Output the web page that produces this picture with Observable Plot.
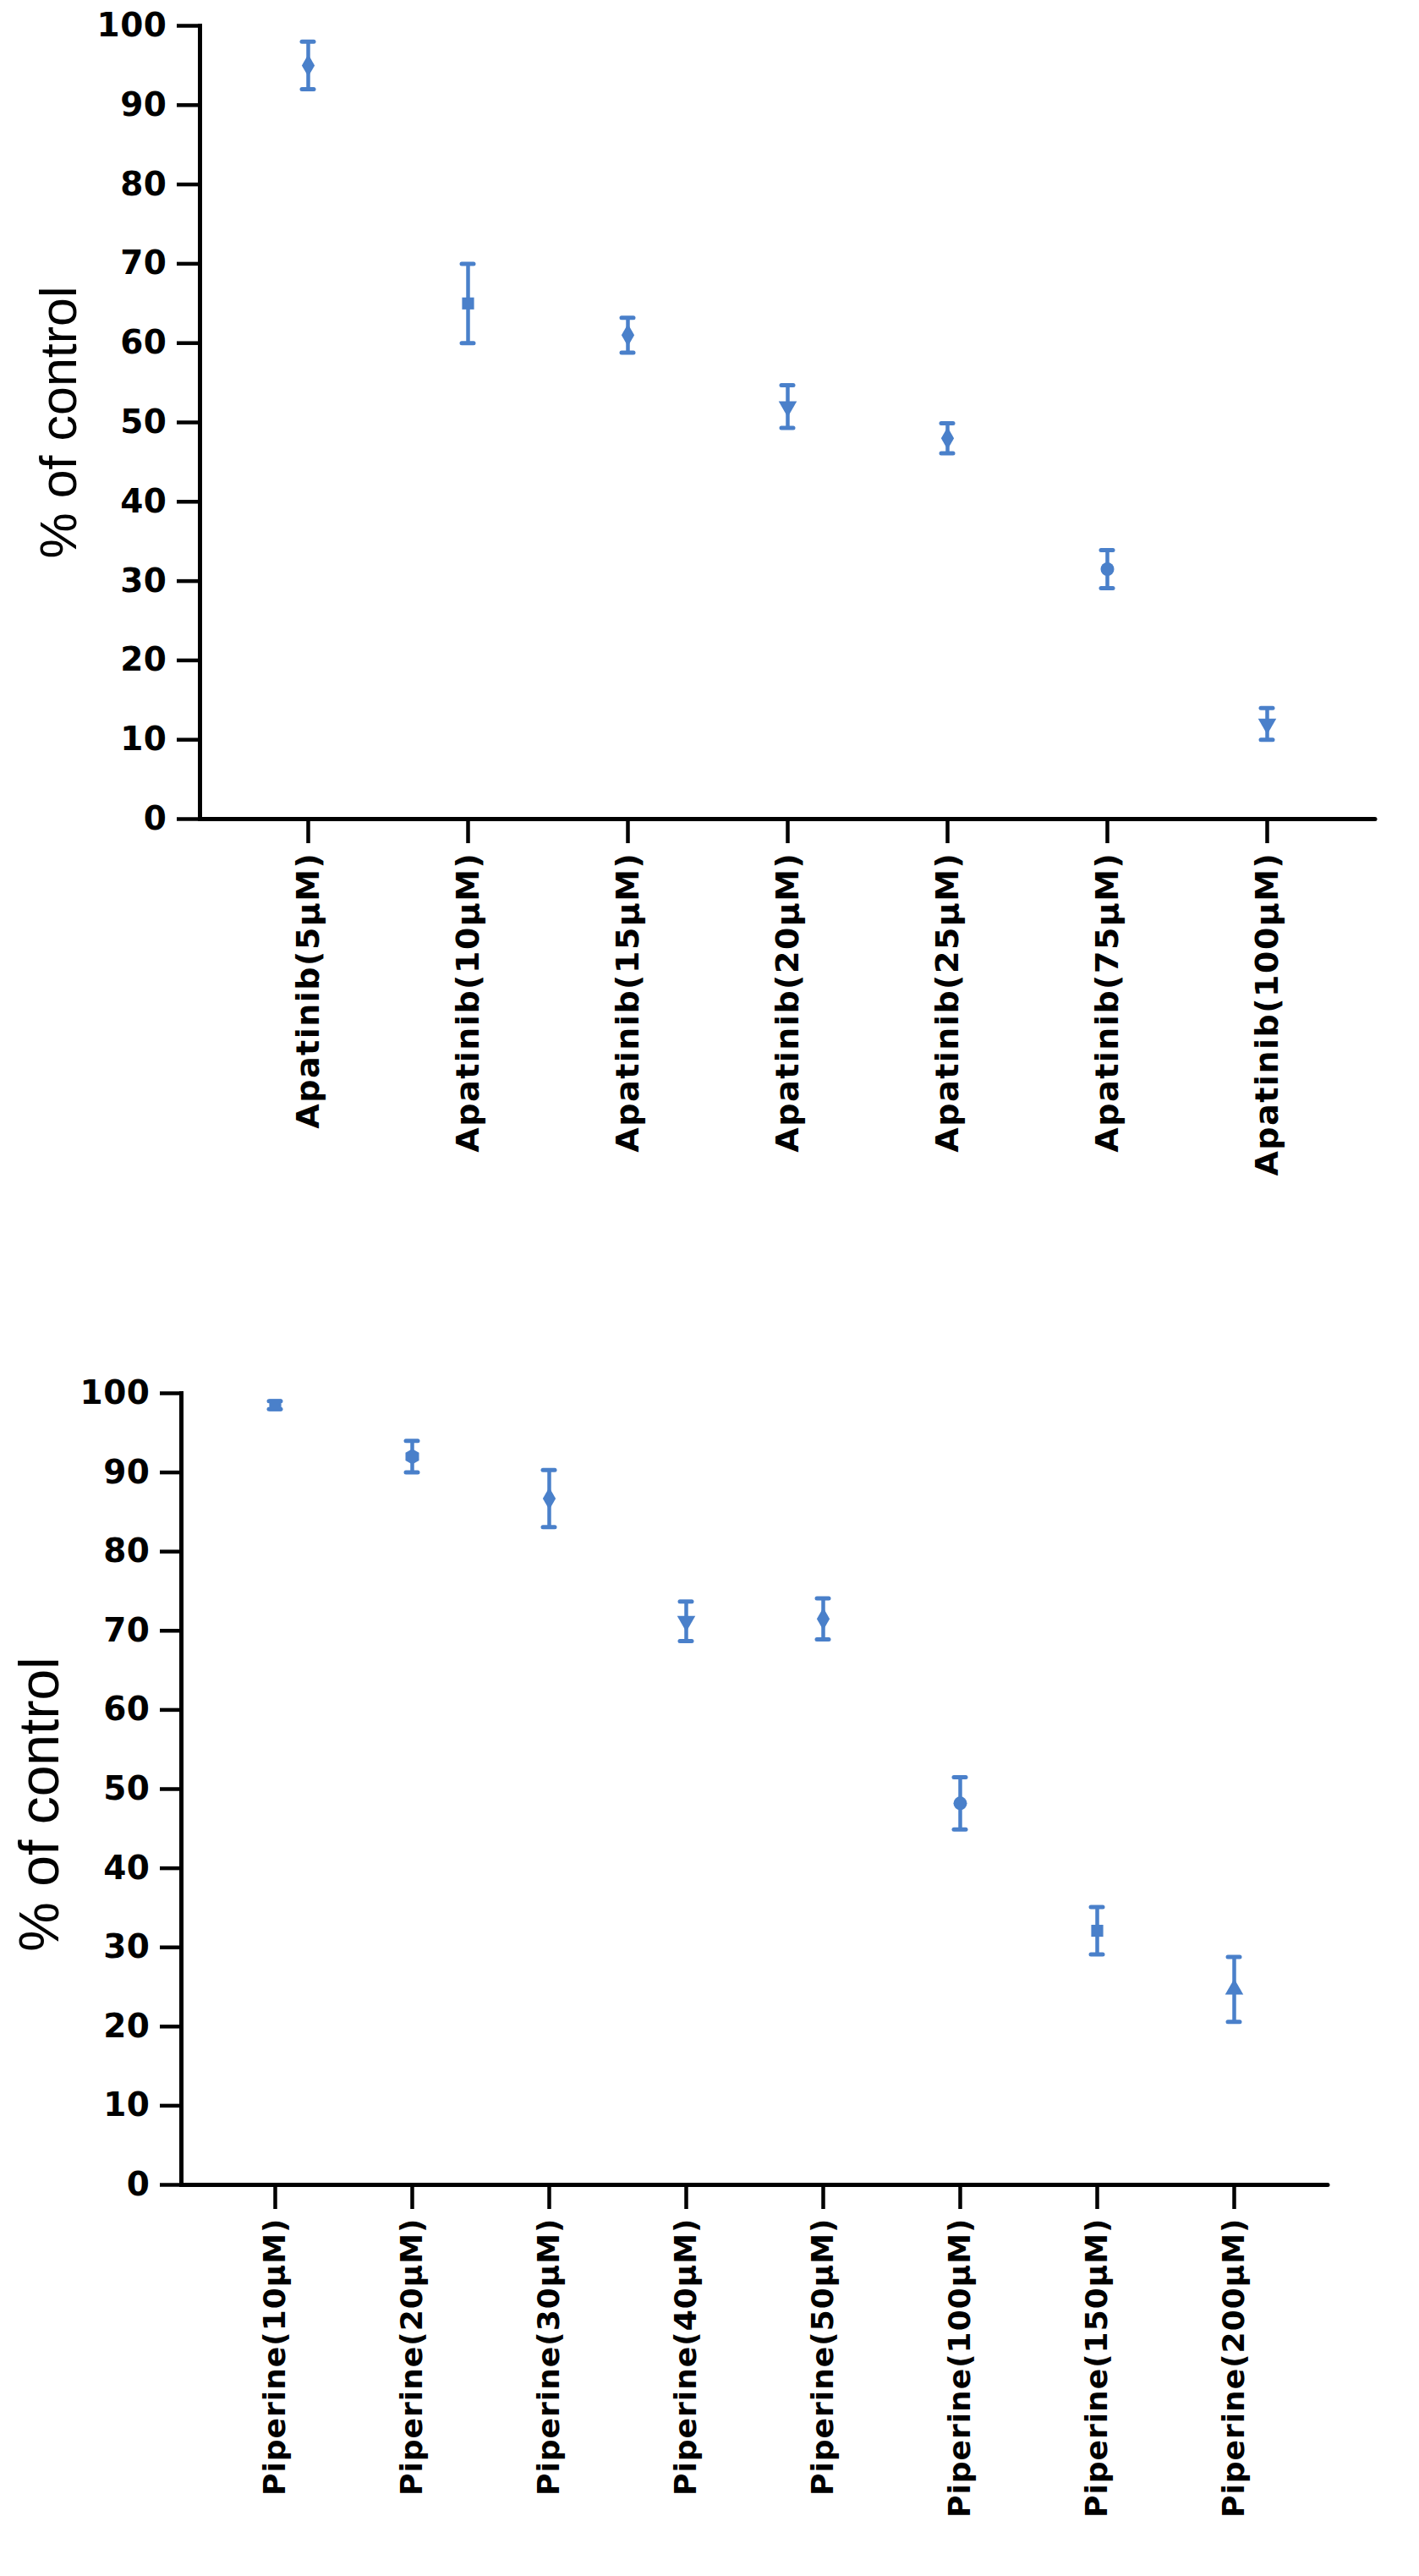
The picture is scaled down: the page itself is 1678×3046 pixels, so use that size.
<!DOCTYPE html>
<html>
<head>
<meta charset="utf-8">
<script src="https://cdn.jsdelivr.net/npm/d3@7"></script>
<script src="https://cdn.jsdelivr.net/npm/@observablehq/plot@0.6"></script>
<style>
  body { margin: 0; background: #fff; }
  #top, #bottom { display: block; line-height: 0; }
  #top [aria-label="x-axis tick label"] text { letter-spacing: 1.5px; }
  #bottom [aria-label="x-axis tick label"] text { letter-spacing: 1px; }
  [aria-label="y-axis tick label"] text { letter-spacing: 0.5px; }
</style>
</head>
<body>
<div id="top"></div>
<div id="bottom"></div>
<script>
// ---- data ----
const apatinibLabels = ["Apatinib(5μM)", "Apatinib(10μM)", "Apatinib(15μM)", "Apatinib(20μM)", "Apatinib(25μM)", "Apatinib(75μM)", "Apatinib(100μM)"];
const apatinibMeans  = [95, 65, 61, 52, 48, 31.5, 12];
const apatinibErrors = [3, 5, 2.2, 2.7, 1.9, 2.4, 2];

const piperineLabels = ["Piperine(10μM)", "Piperine(20μM)", "Piperine(30μM)", "Piperine(40μM)", "Piperine(50μM)", "Piperine(100μM)", "Piperine(150μM)", "Piperine(200μM)"];
const piperineMeans  = [98.5, 92, 86.7, 71.2, 71.5, 48.2, 32.1, 24.7];
const piperineErrors = [0.5, 2, 3.6, 2.5, 2.6, 3.3, 3, 4.1];

const yTicks = [0, 10, 20, 30, 40, 50, 60, 70, 80, 90, 100];
const yTitle = "% of control";

// ---- styles ----
const blue = "#4a80ca";
const apatinibSymbols = ["diamond", "square", "diamond", "triangle", "diamond", "circle", "triangle"];
const apatinibRotate  = [0, 0, 0, 180, 0, 0, 180];
const piperineSymbols = ["square", "hexagon", "diamond", "triangle", "diamond", "circle", "square", "triangle"];
const piperineRotate  = [0, 0, 0, 180, 0, 0, 0, 0];

function chart(o) {
  const data = o.labels.map((c, i) => ({c, m: o.means[i], e: o.errors[i], s: o.symbols[i], r: o.rotates[i]}));
  return Plot.plot({
    width: 1678,
    height: o.height,
    marginTop: o.marginTop,
    marginBottom: o.marginBottom,
    marginLeft: o.marginLeft,
    marginRight: o.marginRight,
    style: {fontFamily: "'Liberation Sans', Arial, sans-serif", color: "#000", background: "#fff", overflow: "visible"},
    x: {type: "point", domain: o.labels, padding: 0.67},
    y: {domain: [0, 100]},
    marks: [
      Plot.axisY({ticks: yTicks, tickSize: o.yTickSize, tickPadding: 12, fontSize: 39, fontWeight: "bold", fontFamily: "DejaVu Sans", strokeWidth: 4.5, label: null}),
      Plot.axisX({tickRotate: -90, tickSize: 29, tickPadding: 10, fontSize: o.labelFont, fontWeight: "bold", fontFamily: "DejaVu Sans", strokeWidth: 4.5, label: null}),
      Plot.ruleY([0], {strokeWidth: 5, strokeLinecap: "round"}),
      Plot.frame({anchor: "left", strokeWidth: 5}),
      Plot.ruleX(data, {x: "c", y1: d => d.m - d.e, y2: d => d.m + d.e, stroke: blue, strokeWidth: 4.5}),
      Plot.ruleY(data, {x1: "c", x2: "c", y: d => d.m + d.e, insetLeft: -7, insetRight: -7, stroke: blue, strokeWidth: 5, strokeLinecap: "round"}),
      Plot.ruleY(data, {x1: "c", x2: "c", y: d => d.m - d.e, insetLeft: -7, insetRight: -7, stroke: blue, strokeWidth: 5, strokeLinecap: "round"}),
      Plot.dot(data, {x: "c", y: "m", symbol: "s", rotate: "r", r: 8, fill: blue, stroke: "none"}),
      Plot.text([yTitle], {frameAnchor: "left", textAnchor: "middle", lineAnchor: "middle", rotate: -90, dx: o.titleDx, dy: o.titleDy, fontSize: o.titleSize, fill: "#000"})
    ]
  });
}

document.getElementById("top").append(chart({
  labels: apatinibLabels, means: apatinibMeans, errors: apatinibErrors,
  symbols: apatinibSymbols, rotates: apatinibRotate,
  height: 1440, marginTop: 30, marginBottom: 472, marginLeft: 236, marginRight: 52,
  yTickSize: 27, labelFont: 38, titleSize: 61, titleDx: -166, titleDy: 0
}));

document.getElementById("bottom").append(chart({
  labels: piperineLabels, means: piperineMeans, errors: piperineErrors,
  symbols: piperineSymbols, rotates: piperineRotate,
  height: 1606, marginTop: 207, marginBottom: 463, marginLeft: 214, marginRight: 108,
  yTickSize: 25, labelFont: 36, titleSize: 66, titleDx: -167, titleDy: 18
}));
</script>
</body>
</html>
